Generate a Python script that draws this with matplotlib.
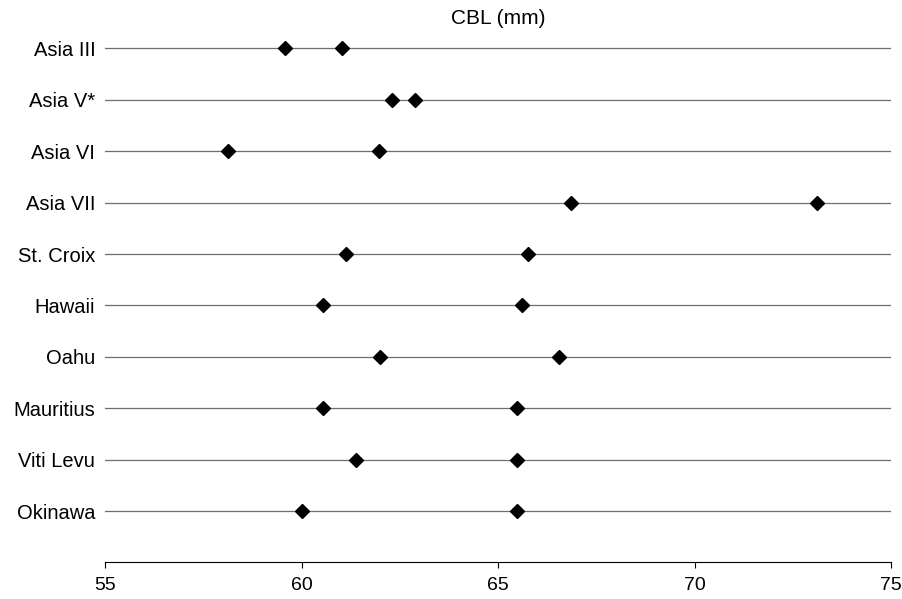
import matplotlib
matplotlib.use("Agg")
import matplotlib.pyplot as plt

# populations, top to bottom
groups = ["Asia III", "Asia V*", "Asia VI", "Asia VII", "St. Croix",
          "Hawaii", "Oahu", "Mauritius", "Viti Levu", "Okinawa"]
# two CBL values per group (mm)
cbl_low = [59.58, 62.30, 58.13, 66.86, 61.13, 60.55, 62.00, 60.55, 61.39, 60.01]
cbl_high = [61.03, 62.89, 61.97, 73.12, 65.76, 65.61, 66.55, 65.48, 65.48, 65.48]
xticks = [55, 60, 65, 70, 75]

plt.rcParams['font.family'] = ['Liberation Sans', 'DejaVu Sans']

fig = plt.figure(figsize=(9.02, 5.99), dpi=100)
ax = fig.add_axes([105/902, 1-562/599, (891-105)/902, (562-20)/599])

ypos = list(range(len(groups)))
for y in ypos:
    ax.plot([55, 75], [y, y], color='#6e6e6e', lw=0.9, zorder=1)
ax.plot(cbl_low, ypos, 'D', color='black', ms=7.5, zorder=3, linestyle='none')
ax.plot(cbl_high, ypos, 'D', color='black', ms=7.5, zorder=3, linestyle='none')

ax.set_xlim(55, 75)
ax.set_ylim(9 + 51/51.4, -28.5/51.4)
ax.set_xticks(xticks)
ax.set_xticklabels([str(t) for t in xticks], fontsize=14)
ax.set_yticks(ypos)
ax.set_yticklabels(groups, fontsize=14.5)
ax.tick_params(axis='y', length=0, pad=7)
ax.tick_params(axis='x', length=4, width=0.8, direction='out', pad=7)
for s in ['top', 'right', 'left']:
    ax.spines[s].set_visible(False)
ax.spines['bottom'].set_linewidth(0.8)

fig.text(498/902, 1-19/599, "CBL (mm)", ha='center', va='center', fontsize=15)

fig.savefig("out.png", dpi=100)
